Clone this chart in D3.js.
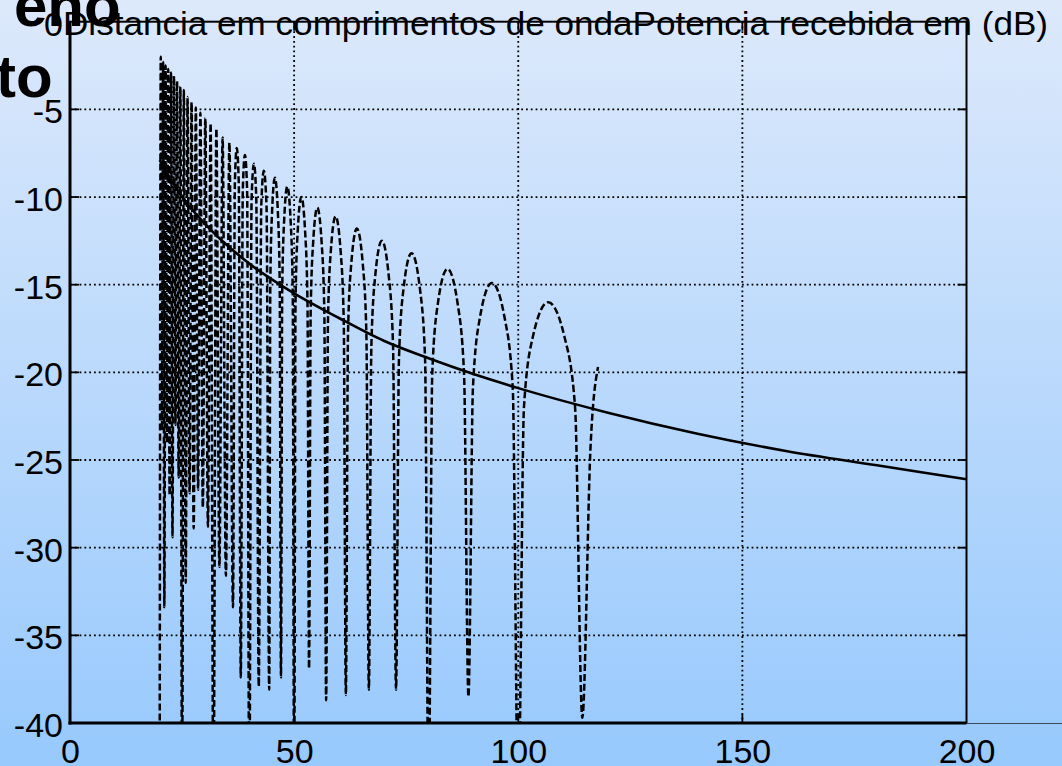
<!DOCTYPE html>
<html>
<head>
<meta charset="utf-8">
<script src="https://cdn.jsdelivr.net/npm/d3@7"></script>
<style>
  body { margin: 0; overflow: hidden; }
  svg { display: block; }
</style>
</head>
<body>
<div id="chart"></div>
<script>
// Chart size
const w = 1062;
const h = 766;

// axis ticks
const xTicks = [0, 50, 100, 150, 200];
const yTicks = [-40, -35, -30, -25, -20, -15, -10, -5, 0];

// free space received power (solid line)
const freeD  = [20, 25, 30, 40, 50, 60, 70, 80, 90, 100, 120, 140, 160, 180, 200];
const freeDb = [-7.9, -10.0, -11.5, -13.8, -15.5, -16.9, -18.2, -19.2, -20.1, -20.9, -22.3, -23.5, -24.5, -25.3, -26.1];

// two ray received power (dashed line): nulls, shoulders and peaks
const twoRayD = [
  20.00, 20.25, 20.51, 20.78, 21.05, 21.33, 21.62, 21.92, 22.22, 22.54,
  22.86, 23.19, 23.53, 23.88, 24.24, 24.62, 25.00, 25.40, 25.81, 26.23,
  26.67, 27.12, 27.59, 28.07, 28.57, 29.09, 29.63, 30.19, 30.77, 31.37,
  32.00, 32.65, 33.33, 34.04, 34.78, 35.56, 36.36,
  36.78, 37.21, 37.65, 38.10,
  38.55, 39.02, 39.51, 40.00,
  40.51, 41.03, 41.56, 42.11,
  42.67, 43.24, 43.84, 44.44,
  44.69, 45.07, 45.71, 46.38, 46.78, 47.06,
  47.34, 47.76, 48.48, 49.23, 49.69, 50.00,
  50.31, 50.79, 51.61, 52.46, 52.98, 53.33,
  53.69, 54.24, 55.17, 56.14, 56.74, 57.14,
  57.55, 58.18, 59.26, 60.38, 61.07, 61.54,
  62.02, 62.75, 64.00, 65.31, 66.12, 66.67,
  67.23, 68.09, 69.57, 71.11, 72.07, 72.73,
  73.39, 74.42, 76.19, 78.05, 79.21, 80.00,
  80.81, 82.05, 84.21, 86.49, 87.91, 88.89,
  89.89, 91.43, 94.12, 96.97, 98.77, 100.00,
  101.27, 103.23, 106.67, 110.34, 112.68, 114.29,
  116.10, 117.80
];
const twoRayDb = [
  -45.0, -2.0, -23.3, -2.3, -33.4, -2.5, -24.0, -2.7, -27.0, -2.9,
  -29.4, -3.1, -23.0, -3.4, -26.0, -3.7, -45.0, -3.9, -32.0, -4.3,
  -26.9, -4.6, -28.9, -4.9, -26.7, -5.2, -27.7, -5.5, -28.8, -5.8,
  -45.0, -6.1, -31.1, -6.6, -31.6, -6.9, -33.4,
  -9.2, -7.2, -9.2, -37.4,
  -9.6, -7.6, -9.6, -45.0,
  -10.1, -8.1, -10.1, -37.9,
  -10.5, -8.5, -10.5, -38.1,
  -14.9, -10.9, -8.9, -10.9, -14.9, -37.4,
  -15.4, -11.4, -9.4, -11.4, -15.4, -45.0,
  -16.0, -12.0, -10.0, -12.0, -16.0, -36.9,
  -16.6, -12.6, -10.6, -12.6, -16.6, -38.7,
  -17.1, -13.1, -11.1, -13.1, -17.1, -38.4,
  -17.8, -13.8, -11.8, -13.8, -17.8, -38.1,
  -18.5, -14.5, -12.5, -14.5, -18.5, -38.1,
  -19.2, -15.2, -13.2, -15.2, -19.2, -45.0,
  -20.1, -16.1, -14.1, -16.1, -20.1, -38.5,
  -20.9, -16.9, -14.9, -16.9, -20.9, -45.0,
  -22.0, -18.0, -16.0, -18.0, -22.0, -39.7,
  -24.4, -19.7
];

const x = d3.scaleLinear().domain([0, 200]).range([70, 966.5]);
const y = d3.scaleLinear().domain([-40, 0]).range([723, 21.7]);

let svg = d3.select("#chart")
  .append("svg")
  .attr("width", w)
  .attr("height", h);

// background gradient (slide)
let defs = svg.append("defs");
let grad = defs.append("linearGradient")
  .attr("id", "bg")
  .attr("x1", 0).attr("y1", 0).attr("x2", 0).attr("y2", 1);
grad.append("stop").attr("offset", "0%").attr("stop-color", "#dde9fb");
grad.append("stop").attr("offset", "100%").attr("stop-color", "#97c9fd");

defs.append("clipPath").attr("id", "plotclip")
  .append("rect")
  .attr("x", x(0)).attr("y", y(0))
  .attr("width", x(200) - x(0)).attr("height", y(-40) - y(0));

svg.append("rect")
  .attr("width", w).attr("height", h)
  .attr("fill", "url(#bg)");

// leftover slide title pieces
svg.append("text")
  .attr("x", 14).attr("y", 26)
  .attr("font-family", "Liberation Sans, Arial, sans-serif")
  .attr("font-weight", "bold").attr("font-size", 60)
  .text("eno");
svg.append("text")
  .attr("x", -4).attr("y", 97)
  .attr("font-family", "Liberation Sans, Arial, sans-serif")
  .attr("font-weight", "bold").attr("font-size", 60)
  .text("to");

// grid lines (dotted)
let grid = svg.append("g")
  .attr("stroke", "black")
  .attr("stroke-width", 1.8)
  .attr("stroke-dasharray", "1.8,3");

grid.selectAll(".gx")
  .data(xTicks.filter(d => d > 0 && d < 200))
  .enter().append("line")
  .attr("x1", d => x(d)).attr("x2", d => x(d))
  .attr("y1", y(0)).attr("y2", y(-40));

grid.selectAll(".gy")
  .data(yTicks.filter(d => d > -40 && d < 0))
  .enter().append("line")
  .attr("x1", x(0)).attr("x2", x(200))
  .attr("y1", d => y(d)).attr("y2", d => y(d));

// curves
let plot = svg.append("g").attr("clip-path", "url(#plotclip)");

let twoRayLine = d3.line()
  .x(i => x(twoRayD[i]))
  .y(i => y(twoRayDb[i]))
  .curve(d3.curveMonotoneX);

plot.append("path")
  .attr("d", twoRayLine(d3.range(twoRayD.length)))
  .attr("fill", "none")
  .attr("stroke", "black")
  .attr("stroke-width", 2.5)
  .attr("stroke-dasharray", "7,3");

let freeLine = d3.line()
  .x(i => x(freeD[i]))
  .y(i => y(freeDb[i]))
  .curve(d3.curveMonotoneX);

plot.append("path")
  .attr("d", freeLine(d3.range(freeD.length)))
  .attr("fill", "none")
  .attr("stroke", "black")
  .attr("stroke-width", 2.6);

// box
svg.append("rect")
  .attr("x", x(0)).attr("y", y(0))
  .attr("width", x(200) - x(0)).attr("height", y(-40) - y(0))
  .attr("fill", "none")
  .attr("stroke", "black")
  .attr("stroke-width", 2);
svg.append("line")
  .attr("x1", x(0)).attr("x2", x(0)).attr("y1", y(0)).attr("y2", y(-40) + 1.5)
  .attr("stroke", "black").attr("stroke-width", 3);
svg.append("line")
  .attr("x1", x(0) - 1.5).attr("x2", x(200)).attr("y1", y(-40)).attr("y2", y(-40))
  .attr("stroke", "black").attr("stroke-width", 3.2);

// thin line continuing to the right edge
svg.append("line")
  .attr("x1", x(200)).attr("x2", w).attr("y1", y(-40) + 0.5).attr("y2", y(-40) + 0.5)
  .attr("stroke", "#3c4a58").attr("stroke-width", 1.2);

// inward ticks on all four sides
const tl = 9;
let ticks = svg.append("g").attr("stroke", "black").attr("stroke-width", 1.8);
xTicks.filter(d => d > 0 && d < 200).forEach(function (d) {
  ticks.append("line").attr("x1", x(d)).attr("x2", x(d)).attr("y1", y(-40)).attr("y2", y(-40) - tl);
  ticks.append("line").attr("x1", x(d)).attr("x2", x(d)).attr("y1", y(0)).attr("y2", y(0) + tl);
});
yTicks.filter(d => d > -40 && d < 0).forEach(function (d) {
  ticks.append("line").attr("x1", x(0)).attr("x2", x(0) + tl).attr("y1", y(d)).attr("y2", y(d));
  ticks.append("line").attr("x1", x(200)).attr("x2", x(200) - tl).attr("y1", y(d)).attr("y2", y(d));
});

// tick labels
let xAxis = svg.append("g")
  .attr("transform", `translate(0,${y(-40)})`)
  .call(d3.axisBottom(x).tickValues(xTicks).tickSize(0).tickPadding(16).tickFormat(d3.format("d")));
let yAxis = svg.append("g")
  .attr("transform", `translate(${x(0)},0)`)
  .call(d3.axisLeft(y).tickValues(yTicks).tickSize(0).tickPadding(7).tickFormat(d => d === 0 ? "0" : "-" + Math.abs(d)));

[xAxis, yAxis].forEach(function (a) {
  a.select(".domain").remove();
  a.selectAll("text")
    .attr("font-family", "Liberation Sans, Arial, sans-serif")
    .attr("font-size", 34)
    .attr("fill", "black");
});
yAxis.selectAll("text").attr("dy", "0.4em");

// axis titles, squeezed on top of the box
svg.append("text")
  .attr("x", 63).attr("y", 35)
  .attr("font-family", "Liberation Sans, Arial, sans-serif")
  .attr("font-size", 34)
  .attr("textLength", 985)
  .attr("lengthAdjust", "spacingAndGlyphs")
  .text("Distancia em comprimentos de ondaPotencia recebida em (dB)");
</script>
</body>
</html>
